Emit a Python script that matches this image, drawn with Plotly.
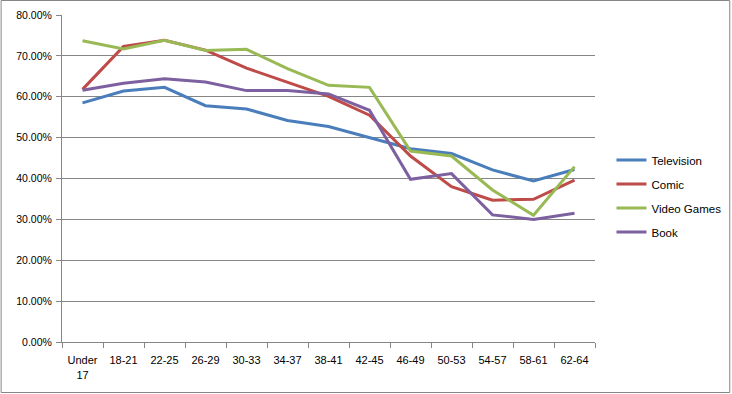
import plotly.graph_objects as go

categories = ["Under<br>17", "18-21", "22-25", "26-29", "30-33", "34-37", "38-41",
              "42-45", "46-49", "50-53", "54-57", "58-61", "62-64"]
television = [0.585, 0.614, 0.623, 0.578, 0.570, 0.542, 0.527, 0.500, 0.473, 0.461, 0.421, 0.394, 0.422]
comic = [0.618, 0.723, 0.738, 0.714, 0.670, 0.636, 0.601, 0.555, 0.455, 0.380, 0.347, 0.349, 0.396]
video_games = [0.737, 0.717, 0.738, 0.713, 0.716, 0.669, 0.628, 0.623, 0.467, 0.455, 0.372, 0.310, 0.429]
book = [0.616, 0.633, 0.644, 0.636, 0.615, 0.615, 0.607, 0.567, 0.398, 0.412, 0.311, 0.300, 0.315]

series = [("Television", television, "#4A7EBB"),
          ("Comic", comic, "#BE4B48"),
          ("Video Games", video_games, "#98B954"),
          ("Book", book, "#7D60A0")]

fig = go.Figure()
for name, vals, color in series:
    fig.add_trace(go.Scatter(x=categories, y=vals, name=name, mode="lines",
                             line=dict(color=color, width=3), legendgroup=name))

W, H = 732, 394
L, R, T, B = 61.5, 136.5, 15, 52
pw, ph = W - L - R, H - T - B

fig.update_layout(
    width=W, height=H,
    margin=dict(l=L, r=R, t=T, b=B, autoexpand=False),
    paper_bgcolor="white", plot_bgcolor="white",
    font=dict(family="Liberation Sans, Arial, sans-serif", size=11, color="black"),
    showlegend=True,
    legend=dict(x=(612 - L) / pw, xanchor="left", y=(H - B - 196) / ph, yanchor="middle",
                tracegroupgap=5, itemwidth=30, font=dict(size=11.5),
                bgcolor="rgba(0,0,0,0)"),
    xaxis=dict(showgrid=False, showline=True, linecolor="#868686", linewidth=1,
               range=[-0.5, len(categories) - 0.5],
               ticks="outside", tickson="boundaries", ticklen=5, tickcolor="#868686",
               ticklabelstandoff=8, tickfont=dict(size=11), fixedrange=True),
    yaxis=dict(range=[0, 0.8], dtick=0.1, tickformat=".2%", showgrid=True,
               gridcolor="#868686", gridwidth=1, showline=True, linecolor="#868686",
               linewidth=1, ticks="outside", ticklen=5, tickcolor="#868686",
               ticklabelstandoff=2, tickfont=dict(size=10.5), zeroline=False, fixedrange=True),
    shapes=[dict(type="rect", xref="paper", yref="paper",
                 x0=(0.5 - L) / pw, x1=(W - 1.5 - L) / pw,
                 y0=-(B - 1.5) / ph, y1=(H - 0.5 - B) / ph,
                 line=dict(color="#868686", width=1))],
)

fig.write_html("out.html")
